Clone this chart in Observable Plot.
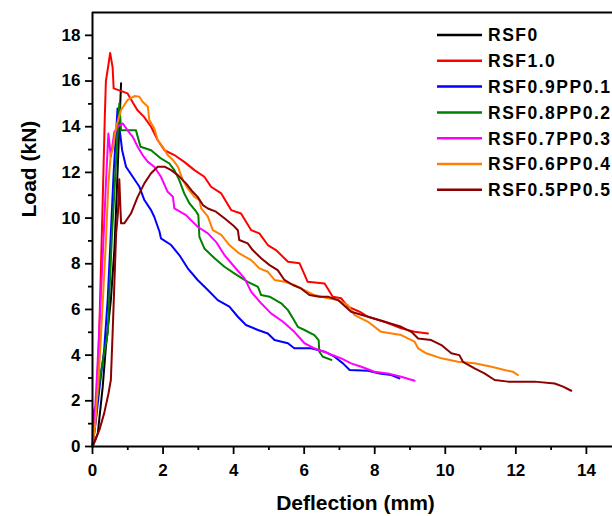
<!DOCTYPE html>
<html>
<head>
<meta charset="utf-8">
<script src="https://cdn.jsdelivr.net/npm/d3@7"></script>
<script src="https://cdn.jsdelivr.net/npm/@observablehq/plot@0.6"></script>
<style>
  html, body { margin: 0; padding: 0; background: #fff; overflow: hidden; }
  #wrap { position: relative; width: 612px; height: 516px; }
  #legend { position: absolute; left: 0; top: 0; width: 612px; height: 516px; pointer-events: none; }
</style>
</head>
<body>
<div id="wrap"><div id="chart"></div><svg id="legend" width="612" height="516"></svg></div>
<script>
// ---- data ----
const seriesNames = ["RSF0", "RSF1.0", "RSF0.9PP0.1", "RSF0.8PP0.2", "RSF0.7PP0.3", "RSF0.6PP0.4", "RSF0.5PP0.5"];
const seriesColors = ["#000000", "#ff0000", "#0000ff", "#008000", "#ff00ff", "#ff8000", "#8b0000"];

const rsf0X = [0, 0.15, 0.29, 0.38, 0.52, 0.62, 0.69, 0.75, 0.81];
const rsf0Y = [0, 0.58, 2.62, 4.37, 6.41, 8.6, 11.2, 13.6, 15.9];

const rsf10X = [0, 0.1, 0.19, 0.24, 0.29, 0.35, 0.38, 0.45, 0.5, 0.57, 0.6, 0.8, 0.99, 1.13, 1.27, 1.46, 1.66, 1.85, 2.04, 2.32, 2.6, 2.89, 3.17, 3.36, 3.65, 3.93, 4.21, 4.5, 4.73, 4.97, 5.2, 5.54, 5.87, 6.1, 6.58, 6.81, 7.05, 7.24, 7.57, 7.81, 8.28, 8.75, 9.13, 9.51];
const rsf10Y = [0, 1.3, 4.95, 7.87, 10.79, 14.5, 16.0, 16.7, 17.23, 16.6, 15.68, 15.57, 15.46, 15.09, 14.73, 14.43, 14.0, 13.41, 12.97, 12.76, 12.46, 12.1, 11.81, 11.37, 11.08, 10.35, 10.2, 9.47, 9.33, 8.82, 8.6, 8.09, 8.02, 7.21, 7.14, 6.56, 6.49, 6.12, 5.9, 5.68, 5.46, 5.17, 5.02, 4.95];

const pp01X = [0, 0.1, 0.2, 0.33, 0.43, 0.52, 0.6, 0.71, 0.76, 0.84, 0.95, 1.14, 1.33, 1.47, 1.66, 1.75, 1.9, 1.94, 2.23, 2.46, 2.7, 2.98, 3.27, 3.55, 3.88, 4.12, 4.35, 4.69, 4.97, 5.16, 5.54, 5.72, 6.2, 6.58, 6.86, 7.1, 7.29, 7.81, 8.14, 8.47, 8.7];
const pp01Y = [0, 1.2, 2.6, 4.22, 6.41, 9.33, 12.0, 14.8, 14.0, 12.97, 12.25, 11.81, 11.37, 10.79, 10.35, 10.06, 9.4, 9.11, 8.82, 8.38, 7.8, 7.29, 6.85, 6.41, 6.12, 5.68, 5.32, 5.1, 4.95, 4.66, 4.52, 4.3, 4.3, 4.15, 3.93, 3.64, 3.35, 3.32, 3.2, 3.13, 2.98];

const pp02X = [0, 0.02, 0.1, 0.23, 0.43, 0.55, 0.65, 0.76, 0.81, 1.23, 1.36, 1.66, 1.94, 2.18, 2.32, 2.46, 2.6, 2.75, 2.94, 3.0, 3.03, 3.17, 3.46, 3.74, 4.02, 4.4, 4.69, 4.78, 5.02, 5.35, 5.54, 5.68, 5.82, 6.01, 6.29, 6.41, 6.43, 6.53, 6.77];
const pp02Y = [0, 1.5, 1.8, 3.2, 4.95, 9.2, 12.0, 15.02, 13.85, 13.85, 13.12, 12.97, 12.61, 12.39, 12.1, 11.66, 11.08, 10.64, 10.28, 10.13, 9.18, 8.67, 8.24, 7.87, 7.58, 7.21, 6.99, 6.63, 6.56, 6.27, 5.97, 5.61, 5.24, 5.1, 4.88, 4.66, 4.15, 3.93, 3.79];

const pp03X = [0, 0.06, 0.13, 0.22, 0.31, 0.38, 0.45, 0.52, 0.62, 0.76, 0.86, 0.99, 1.14, 1.28, 1.42, 1.57, 1.75, 1.94, 2.13, 2.28, 2.32, 2.65, 2.98, 3.27, 3.5, 3.74, 4.02, 4.31, 4.5, 4.78, 5.06, 5.4, 5.72, 6.01, 6.29, 6.67, 7.05, 7.33, 7.62, 7.99, 8.37, 8.75, 9.13];
const pp03Y = [0, 1.2, 3.2, 6.0, 9.0, 11.5, 13.7, 12.68, 13.78, 14.07, 14.14, 13.85, 13.56, 13.12, 12.76, 12.46, 12.25, 11.81, 11.15, 10.93, 10.42, 10.13, 9.62, 9.33, 8.96, 8.38, 7.87, 7.36, 6.77, 6.27, 5.83, 5.46, 5.02, 4.52, 4.3, 4.08, 3.86, 3.64, 3.49, 3.27, 3.2, 3.05, 2.88];

const pp04X = [0, 0.08, 0.18, 0.28, 0.38, 0.45, 0.52, 0.57, 0.67, 0.81, 0.99, 1.19, 1.33, 1.42, 1.57, 1.61, 1.75, 1.85, 1.99, 2.13, 2.28, 2.42, 2.56, 2.7, 2.89, 3.03, 3.08, 3.27, 3.41, 3.65, 3.88, 4.16, 4.5, 4.73, 4.97, 5.16, 5.44, 5.72, 6.01, 6.29, 6.67, 6.96, 7.24, 7.43, 7.81, 8.18, 8.75, 9.13, 9.23, 9.46, 9.89, 10.36, 10.83, 11.31, 11.68, 11.92, 12.06];
const pp04Y = [0, 1.0, 3.2, 6.0, 9.0, 11.5, 12.83, 12.97, 14.0, 14.73, 15.16, 15.34, 15.31, 15.09, 14.87, 14.29, 13.93, 13.41, 13.12, 12.76, 12.54, 12.25, 11.66, 11.3, 10.93, 10.79, 10.42, 10.06, 9.47, 9.26, 8.82, 8.45, 8.16, 7.8, 7.65, 7.29, 7.21, 7.07, 6.85, 6.63, 6.49, 6.41, 6.19, 5.75, 5.46, 5.02, 4.88, 4.59, 4.3, 4.08, 3.86, 3.71, 3.64, 3.49, 3.35, 3.27, 3.13];

const pp05X = [0, 0.1, 0.2, 0.33, 0.45, 0.52, 0.57, 0.62, 0.67, 0.72, 0.76, 0.79, 0.81, 0.9, 1.09, 1.28, 1.47, 1.66, 1.85, 2.04, 2.23, 2.42, 2.65, 2.84, 2.98, 3.13, 3.27, 3.5, 3.74, 3.98, 4.12, 4.16, 4.4, 4.54, 4.78, 5.02, 5.25, 5.44, 5.68, 5.91, 6.15, 6.43, 6.67, 6.96, 7.33, 7.81, 8.28, 8.75, 9.04, 9.23, 9.6, 9.89, 10.17, 10.4, 10.5, 10.83, 11.11, 11.4, 11.78, 12.53, 13.1, 13.34, 13.57];
const pp05Y = [0, 0.35, 0.75, 1.45, 2.3, 2.91, 4.95, 7.14, 9.33, 10.2, 11.7, 10.5, 9.77, 9.77, 10.2, 10.93, 11.52, 11.96, 12.25, 12.25, 12.1, 11.88, 11.52, 11.15, 10.93, 10.57, 10.42, 10.28, 9.99, 9.69, 9.47, 9.04, 8.89, 8.6, 8.24, 7.94, 7.72, 7.29, 7.07, 6.92, 6.63, 6.56, 6.56, 6.41, 5.9, 5.68, 5.46, 5.24, 5.02, 4.73, 4.66, 4.44, 4.08, 4.0, 3.71, 3.42, 3.2, 2.91, 2.84, 2.84, 2.76, 2.62, 2.44];

const xMajorTicks = [0, 2, 4, 6, 8, 10, 12, 14];
const xMinorTicks = [1, 3, 5, 7, 9, 11, 13];
const yMajorTicks = [0, 2, 4, 6, 8, 10, 12, 14, 16, 18];
const yMinorTicks = [1, 3, 5, 7, 9, 11, 13, 15, 17];
const xLabel = "Deflection (mm)";
const yLabel = "Load (kN)";

// ---- build long table ----
const seriesXY = [
  [rsf0X, rsf0Y], [rsf10X, rsf10Y], [pp01X, pp01Y], [pp02X, pp02Y],
  [pp03X, pp03Y], [pp04X, pp04Y], [pp05X, pp05Y]
];
const rows = [];
seriesXY.forEach(([xs, ys], i) => {
  xs.forEach((x, j) => rows.push({series: seriesNames[i], x, y: ys[j]}));
});

const font = "'Liberation Sans', Arial, sans-serif";

const chart = Plot.plot({
  width: 612,
  height: 516,
  marginLeft: 92,
  marginRight: 0,
  marginTop: 12,
  marginBottom: 70,
  style: {fontFamily: font, fontWeight: "bold", fontSize: "17px", color: "#000", background: "#fff"},
  x: {domain: [0, 14.74]},
  y: {domain: [0, 19]},
  color: {domain: seriesNames, range: seriesColors},
  marks: [
    Plot.line(rows, {x: "x", y: "y", z: "series", stroke: "series", strokeWidth: 2, curve: "linear"}),
    Plot.axisX({ticks: xMajorTicks, tickSize: 8, tickPadding: 9, tickFormat: d => String(d), fontSize: 17, fontWeight: "bold", label: null, strokeWidth: 1.8}),
    Plot.axisX({ticks: xMinorTicks, tickSize: 4, text: null, label: null, strokeWidth: 1.8}),
    Plot.axisY({ticks: yMajorTicks, tickSize: 7, tickPadding: 5, tickFormat: d => String(d), fontSize: 17, fontWeight: "bold", label: null, strokeWidth: 1.8}),
    Plot.axisY({ticks: yMinorTicks, tickSize: 4, text: null, label: null, strokeWidth: 1.8}),
    Plot.ruleX([0], {stroke: "#000", strokeWidth: 2}),
    Plot.ruleY([0], {stroke: "#000", strokeWidth: 2}),
    Plot.ruleY([19], {stroke: "#000", strokeWidth: 2}),
    Plot.text([xLabel], {frameAnchor: "bottom", dy: 57, dx: 3, lineAnchor: "middle", fontSize: 21, fontWeight: "bold", fill: "#000"}),
    Plot.text([yLabel], {frameAnchor: "left", rotate: -90, dx: -63, dy: -12, fontSize: 21, fontWeight: "bold", fill: "#000"})
  ]
});
document.getElementById("chart").appendChild(chart);

// ---- legend (inside plot, top-right) ----
const lg = d3.select("#legend");
seriesNames.forEach((name, i) => {
  const yy = 35 + i * 25.8;
  lg.append("line").attr("x1", 437).attr("x2", 482).attr("y1", yy).attr("y2", yy)
    .attr("stroke", seriesColors[i]).attr("stroke-width", 2.5);
  lg.append("text").attr("x", 488).attr("y", yy).attr("dy", "0.36em")
    .attr("font-family", font).attr("font-weight", "bold").attr("font-size", 17.5)
    .attr("letter-spacing", "1.5px").attr("fill", "#000").text(name);
});
</script>
</body>
</html>
